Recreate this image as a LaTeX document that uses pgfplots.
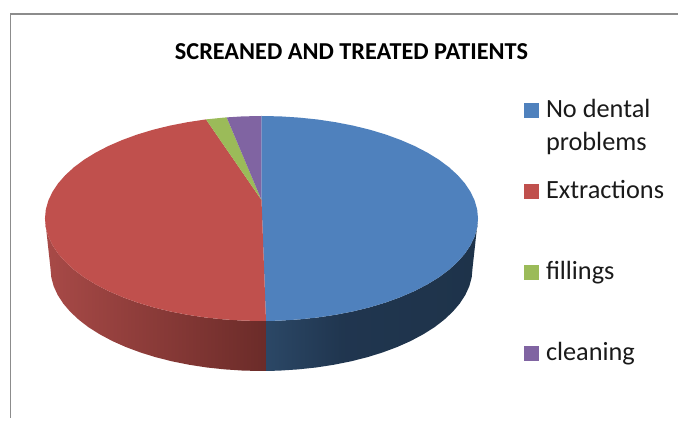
\documentclass[border=0pt]{standalone}
\usepackage{pgfplots}
\pgfplotsset{compat=1.18}
\usepackage{fontspec}
\setmainfont{Carlito}
\definecolor{cblue}{HTML}{4F81BD}
\definecolor{cred}{HTML}{C0504D}
\definecolor{cgreen}{HTML}{9BBB59}
\definecolor{cpurple}{HTML}{8064A2}
\definecolor{frame}{HTML}{8C8C8C}
\pgfdeclarehorizontalshading{blueside}{100bp}{rgb(0bp)=(0.17,0.28,0.40); rgb(25bp)=(0.17,0.28,0.40); rgb(43bp)=(0.125,0.21,0.31); rgb(75bp)=(0.118,0.2,0.29); rgb(100bp)=(0.118,0.2,0.29)}
\pgfdeclarehorizontalshading{redside}{100bp}{rgb(0bp)=(0.66,0.29,0.28); rgb(25bp)=(0.66,0.29,0.28); rgb(75bp)=(0.42,0.17,0.16); rgb(100bp)=(0.42,0.17,0.16)}
\begin{document}
\begin{tikzpicture}
\begin{axis}[
  anchor=origin, at={(0,0)},
  scale only axis, width=678pt, height=418pt,
  xmin=-261.5, xmax=416.5, ymin=-199.5, ymax=218.5,
  hide axis,
  title={\fontsize{24.3}{28}\selectfont\bfseries SCREANED AND TREATED PATIENTS},
  title style={at={(axis cs:90,161.5)},anchor=base,inner sep=0pt,yshift=-8.5pt},
  area legend,
  legend cell align=left,
  legend style={at={(axis cs:262.5,120.8)},anchor=north west,draw=none,fill=none,inner sep=0pt,outer sep=0pt,
    row sep=0pt,column sep=0pt,
    font=\fontsize{26.3}{33}\selectfont\color[HTML]{1A1A1A},
    nodes={inner sep=0pt,outer sep=0pt,text height=20pt,text depth=61pt}},
  legend image code/.code={\fill[#1] (0pt,20.5pt) rectangle (15pt,35.5pt);\path (22pt,20.5pt);},
]
% frame
\addplot[draw=white,fill=white,forget plot] coordinates {(-261.5,-199.5)(416.5,-199.5)(416.5,218.5)(-261.5,218.5)};
\addplot[frame,line width=1.8pt,forget plot] coordinates {(-251,-199.5)(-251,204.5)(416.5,204.5)};
% sides
\addplot[draw=none,shading=blueside,forget plot] coordinates {
(4.5,-102.5)(18.9,-102.1)(37.6,-100.9)(56,-99)(74,-96.3)(91.5,-92.9)(108.25,-88.8)(124.2,-84)(139.2,-78.5)(153.1,-72.5)(165.8,-65.9)(177.4,-58.8)(187.5,-51.25)(196.2,-43.3)(203.4,-35.1)(209.1,-26.5)(213.2,-17.8)(215.7,-8.9)(216.5,0)
(211,-50)(210.2,-58.9)(207.8,-67.8)(203.8,-76.5)(198.2,-85.1)(191.2,-93.3)(182.7,-101.25)(172.9,-108.8)(161.6,-115.9)(149.2,-122.5)(135.7,-128.5)(121,-134)(105.5,-138.8)(89.2,-142.9)(72.1,-146.3)(54.6,-149)(36.6,-150.9)(18.4,-152.1)(4.5,-152.5)(4.5,-102.5)};
\addplot[draw=none,shading=redside,forget plot] coordinates {
(4.5,-102.5)(0,-102.5)(-18.9,-102.1)(-37.6,-100.9)(-56,-99)(-74,-96.3)(-91.5,-92.9)(-108.25,-88.8)(-124.2,-84)(-139.2,-78.5)(-153.1,-72.5)(-165.8,-65.9)(-177.4,-58.8)(-187.5,-51.25)(-196.2,-43.3)(-203.4,-35.1)(-209.1,-26.5)(-213.2,-17.8)(-215.7,-8.9)(-216.5,0)
(-211,-50)(-210.2,-58.9)(-207.8,-67.8)(-203.8,-76.5)(-198.2,-85.1)(-191.2,-93.3)(-182.7,-101.25)(-172.9,-108.8)(-161.6,-115.9)(-149.2,-122.5)(-135.7,-128.5)(-121,-134)(-105.5,-138.8)(-89.2,-142.9)(-72.1,-146.3)(-54.6,-149)(-36.6,-150.9)(-18.4,-152.1)(0,-152.5)(4.5,-152.5)(4.5,-102.5)};
% top faces
\addplot[draw=none,fill=cblue] coordinates {
(0,18.5)(0,102.5)(18.9,102.1)(37.6,100.9)(56,99)(74,96.3)(91.5,92.9)(108.25,88.8)(124.2,84)(139.2,78.5)(153.1,72.5)(165.8,65.9)(177.4,58.8)(187.5,51.25)(196.2,43.3)(203.4,35.1)(209.1,26.5)(213.2,17.8)(215.7,8.9)(216.5,0)
(215.7,-8.9)(213.2,-17.8)(209.1,-26.5)(203.4,-35.1)(196.2,-43.3)(187.5,-51.25)(177.4,-58.8)(165.8,-65.9)(153.1,-72.5)(139.2,-78.5)(124.2,-84)(108.25,-88.8)(91.5,-92.9)(74,-96.3)(56,-99)(37.6,-100.9)(18.9,-102.1)(4.5,-102.5)(0,18.5)};
\addlegendentry{\parbox[t]{130pt}{No dental\\problems}}
\addplot[draw=none,fill=cred] coordinates {
(0,18.5)(4.5,-102.5)(0,-102.5)(-18.9,-102.1)(-37.6,-100.9)(-56,-99)(-74,-96.3)(-91.5,-92.9)(-108.25,-88.8)(-124.2,-84)(-139.2,-78.5)(-153.1,-72.5)(-165.8,-65.9)(-177.4,-58.8)(-187.5,-51.25)(-196.2,-43.3)(-203.4,-35.1)(-209.1,-26.5)(-213.2,-17.8)(-215.7,-8.9)(-216.5,0)
(-215.7,8.9)(-213.2,17.8)(-209.1,26.5)(-203.4,35.1)(-196.2,43.3)(-187.5,51.25)(-177.4,58.8)(-165.8,65.9)(-153.1,72.5)(-139.2,78.5)(-124.2,84)(-108.25,88.8)(-91.5,92.9)(-74,96.3)(-55.5,99.1)(0,18.5)};
\addlegendentry{Extractions}
\addplot[draw=none,fill=cgreen] coordinates {(0,18.5)(-55.5,99.1)(-37.6,100.9)(-34.8,101.1)(0,18.5)};
\addlegendentry{fillings}
\addplot[draw=none,fill=cpurple] coordinates {(0,18.5)(-34.8,101.1)(-18.9,102.1)(0,102.5)(0,18.5)};
\addlegendentry{cleaning}
\end{axis}
\end{tikzpicture}
\end{document}
